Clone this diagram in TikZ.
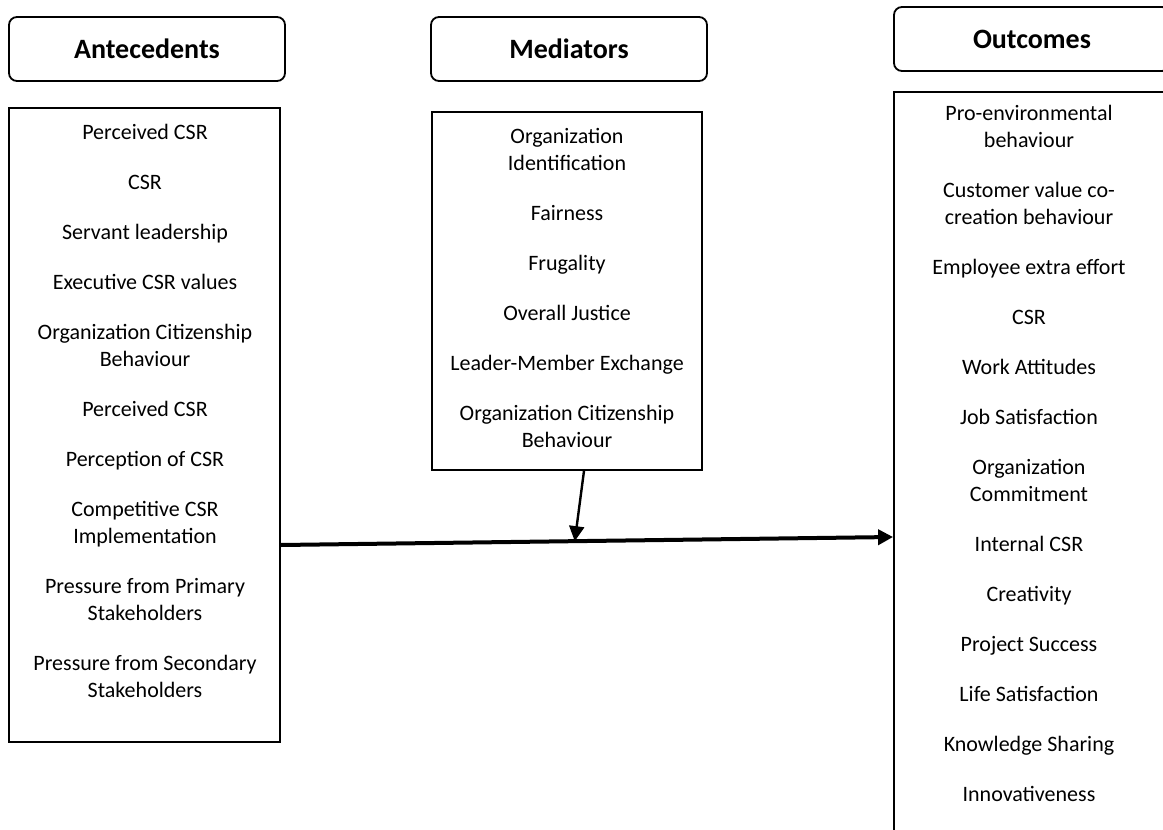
\documentclass[tikz,border=0pt]{standalone}
\usepackage{fontspec}
\setmainfont{Carlito}
\usetikzlibrary{arrows.meta,positioning}

\begin{document}
\begin{tikzpicture}[x=0.5pt,y=-0.5pt,
    header/.style={draw,line width=0.9pt,rounded corners=4pt,minimum width=138pt,
      minimum height=32pt,font=\fontsize{14}{17}\selectfont\bfseries},
    listbox/.style={draw,line width=0.9pt,inner sep=0pt},
    items/.style={align=center,inner sep=0pt,anchor=base,
      font=\fontsize{11}{13.5}\selectfont},
    link/.style={-{Triangle[length=7.5pt,width=7.5pt]}}]
  \useasboundingbox (0,0) rectangle (1163,830);

  % column headers
  \node[header] (hAnte) at (147,49) {Antecedents};
  \node[header] (hMed) at (569,49) {Mediators};
  \node[header] (hOut) at (1032,39) {Outcomes};

  % the three lists (base = baseline of the last line)
  \node[listbox,minimum width=135.5pt,minimum height=317pt] (ante) at (144.5,425) {};
  \node[listbox,minimum width=135pt,minimum height=179pt] (med) at (567,291) {};
  \node[listbox,minimum width=137pt,minimum height=384pt] (outc) at (1031,476) {};

  \node[items] (anteList) at (145,697) {Perceived CSR\\[11.5pt]
    CSR\\[11.5pt]
    Servant leadership\\[11.5pt]
    Executive CSR values\\[11.5pt]
    Organization Citizenship\\ Behaviour\\[11.5pt]
    Perceived CSR\\[11.5pt]
    Perception of CSR\\[11.5pt]
    Competitive CSR\\ Implementation\\[11.5pt]
    Pressure from Primary\\ Stakeholders\\[11.5pt]
    Pressure from Secondary\\ Stakeholders};

  \node[items] (medList) at (567,447) {Organization\\ Identification\\[11.5pt]
    Fairness\\[11.5pt]
    Frugality\\[11.5pt]
    Overall Justice\\[11.5pt]
    Leader-Member Exchange\\[11.5pt]
    Organization Citizenship\\ Behaviour};

  \node[items] (outList) at (1029,801) {Pro-environmental\\ behaviour\\[11.5pt]
    Customer value co-\\ creation behaviour\\[11.5pt]
    Employee extra effort\\[11.5pt]
    CSR\\[11.5pt]
    Work Attitudes\\[11.5pt]
    Job Satisfaction\\[11.5pt]
    Organization\\ Commitment\\[11.5pt]
    Internal CSR\\[11.5pt]
    Creativity\\[11.5pt]
    Project Success\\[11.5pt]
    Life Satisfaction\\[11.5pt]
    Knowledge Sharing\\[11.5pt]
    Innovativeness};

  % main path and the mediating arrow
  \path ([yshift=-60pt]ante.east) -- ([yshift=-30.5pt]outc.west) coordinate[pos=0.48] (join);
  \draw[link,line width=2pt] ([yshift=-60pt]ante.east) -- ([yshift=-30.5pt]outc.west);
  \draw[link,line width=1.2pt] ([xshift=8.5pt]med.south) -- (join);
\end{tikzpicture}
\end{document}
